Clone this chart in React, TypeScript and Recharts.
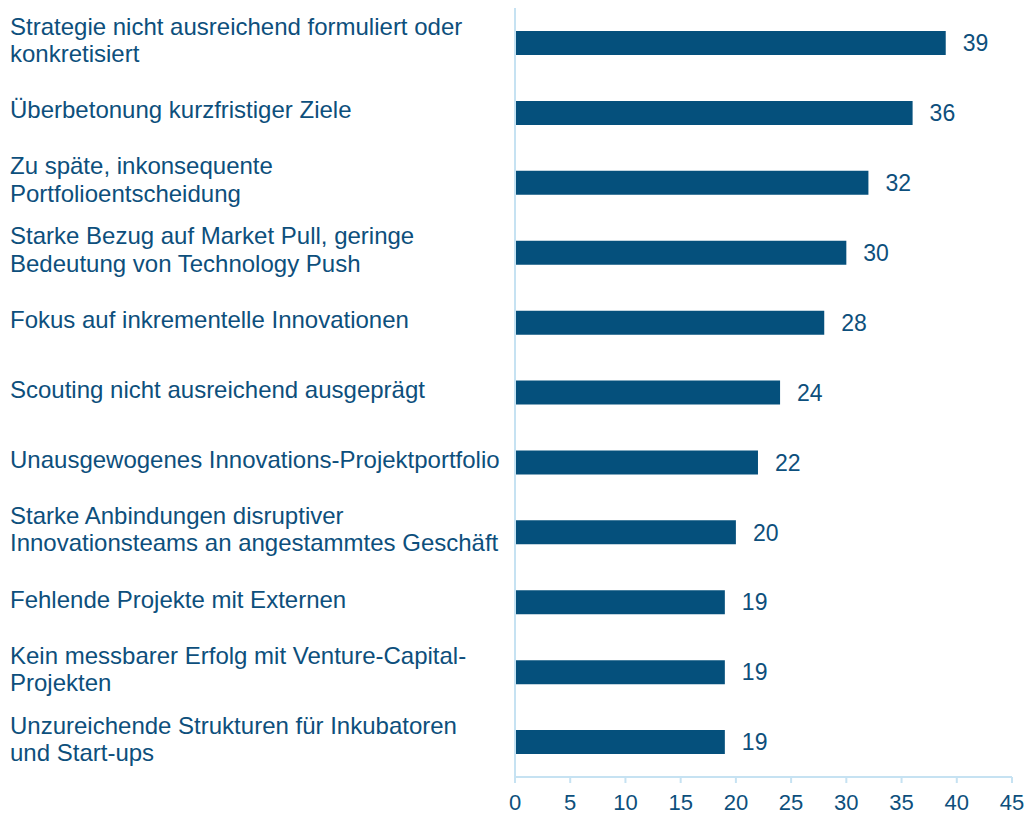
import React from "react"
import { BarChart, Bar, XAxis, YAxis, LabelList } from "recharts"

const categories = [
  "Strategie nicht ausreichend formuliert oder\nkonkretisiert",
  "Überbetonung kurzfristiger Ziele",
  "Zu späte, inkonsequente\nPortfolioentscheidung",
  "Starke Bezug auf Market Pull, geringe\nBedeutung von Technology Push",
  "Fokus auf inkrementelle Innovationen",
  "Scouting nicht ausreichend ausgeprägt",
  "Unausgewogenes Innovations-Projektportfolio",
  "Starke Anbindungen disruptiver\nInnovationsteams an angestammtes Geschäft",
  "Fehlende Projekte mit Externen",
  "Kein messbarer Erfolg mit Venture-Capital-\nProjekten",
  "Unzureichende Strukturen für Inkubatoren\nund Start-ups",
]

const values = [39, 36, 32, 30, 28, 24, 22, 20, 19, 19, 19]

const xTicks = [0, 5, 10, 15, 20, 25, 30, 35, 40, 45]

const BAR = "#05507c"
const TEXT = "#0d4f7c"
const AXIS = "#c6e2f2"
const FONT = "'Liberation Sans', Arial, sans-serif"

const data = categories.map((name, i) => ({ name, value: values[i] }))

const CategoryTick = ({ y, payload }: { y?: number; payload?: { value: string } }) => {
  const lines = String(payload?.value ?? "").split("\n")
  const lineHeight = 27.5
  const fs = 24
  const cy = (y ?? 0) - 3
  const first = cy - ((lines.length - 1) * lineHeight) / 2 + fs * 0.35
  return (
    <text x={10} y={first} textAnchor="start" fill={TEXT} fontSize={fs} fontFamily={FONT}>
      {lines.map((line, i) => (
        <tspan key={i} x={10} y={first + i * lineHeight}>
          {line}
        </tspan>
      ))}
    </text>
  )
}

export default function App() {
  return (
    <div style={{ position: "absolute", left: 0, top: 0, background: "#fff" }}>
      <BarChart
        width={1030}
        height={815}
        data={data}
        layout="vertical"
        margin={{ top: 8, right: 18, bottom: 0, left: 0 }}
      >
        <XAxis
          type="number"
          domain={[0, 45]}
          ticks={xTicks}
          interval={0}
          height={38}
          axisLine={{ stroke: AXIS, strokeWidth: 2 }}
          tickLine={{ stroke: AXIS, strokeWidth: 2 }}
          tickSize={6}
          tickMargin={11}
          tick={{ fill: TEXT, fontSize: 22, fontFamily: FONT }}
        />
        <YAxis
          type="category"
          dataKey="name"
          width={515}
          interval={0}
          axisLine={{ stroke: AXIS, strokeWidth: 2 }}
          tickLine={false}
          tick={<CategoryTick />}
        />
        <Bar dataKey="value" fill={BAR} barSize={24} isAnimationActive={false}>
          <LabelList
            dataKey="value"
            position="right"
            offset={17}
            fill={TEXT}
            fontSize={23}
            fontFamily={FONT}
          />
        </Bar>
      </BarChart>
    </div>
  )
}
